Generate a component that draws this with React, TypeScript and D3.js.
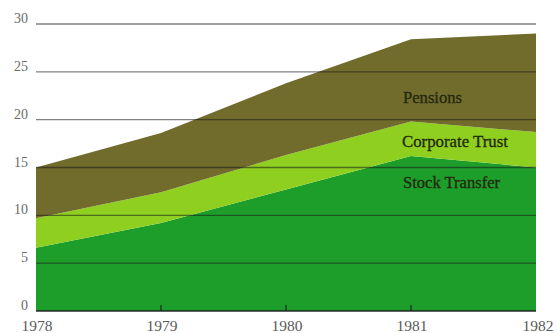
import React from "react";
import * as d3 from "d3";

const years = [1978, 1979, 1980, 1981, 1982];
const stockTransfer = [6.6, 9.2, 12.7, 16.2, 15.0];
const corporateTrust = [3.1, 3.2, 3.6, 3.6, 3.7];
const pensions = [5.3, 6.2, 7.5, 8.6, 10.3];
const seriesNames = ["Stock Transfer", "Corporate Trust", "Pensions"];
const seriesColors = ["#1d9e2b", "#8fcf20", "#716c2c"];
const yTicks = [0, 5, 10, 15, 20, 25, 30];
const labelPos = [
  { name: "Stock Transfer", x: 403, y: 188, w: 97 },
  { name: "Corporate Trust", x: 402, y: 147, w: 106 },
  { name: "Pensions", x: 403, y: 103, w: 59 },
];

export default function App() {
  const W = 557, H = 333;
  const x = d3.scaleLinear().domain([1978, 1982]).range([36, 536]);
  const y = d3.scaleLinear().domain([0, 30]).range([311, 24]);
  const table = years.map((yr, i) => ({
    year: yr,
    "Stock Transfer": stockTransfer[i],
    "Corporate Trust": corporateTrust[i],
    Pensions: pensions[i],
  }));
  const stacked = d3.stack<any>().keys(seriesNames)(table);
  const area = d3
    .area<any>()
    .x((d) => x(d.data.year))
    .y0((d) => y(d[0]))
    .y1((d) => y(d[1]))
    .curve(d3.curveLinear);
  const fontStyle = { fontFamily: "Liberation Serif, serif" };
  return (
    <svg width={W} height={H} style={{ position: "absolute", left: 0, top: 0 }}>
      <rect width={W} height={H} fill="#fff" />
      {stacked.map((s, i) => (
        <path key={s.key} d={area(s) || ""} fill={seriesColors[i]} />
      ))}
      {yTicks.map((t) => (
        <g key={t}>
          <line
            x1={36}
            x2={536}
            y1={y(t)}
            y2={y(t)}
            stroke="#1a1a1a"
            strokeOpacity={t === 0 ? 0.9 : 0.55}
            strokeWidth={1.4}
          />
          <text
            x={28}
            y={y(t) - 1}
            textAnchor="end"
            style={fontStyle}
            fontSize={14}
            fill="#6a6a6a"
          >
            {t}
          </text>
        </g>
      ))}
      {years.slice(1, 4).map((yr) => (
        <line
          key={yr}
          x1={x(yr)}
          x2={x(yr)}
          y1={311}
          y2={305}
          stroke="#222"
          strokeWidth={1.2}
        />
      ))}
      {years.map((yr) => (
        <text
          key={yr}
          x={x(yr) + (yr === 1982 ? 2 : 1)}
          y={331}
          textAnchor="middle"
          style={fontStyle}
          fontSize={15.5}
          fill="#5a5a5a"
        >
          {yr}
        </text>
      ))}
      {labelPos.map((l) => (
        <text
          key={l.name}
          x={l.x}
          y={l.y}
          style={fontStyle}
          fontSize={16.5}
          textLength={l.w}
          lengthAdjust="spacingAndGlyphs"
          fill="#23280c"
          stroke="#23280c"
          strokeWidth={0.3}
        >
          {l.name}
        </text>
      ))}
    </svg>
  );
}
